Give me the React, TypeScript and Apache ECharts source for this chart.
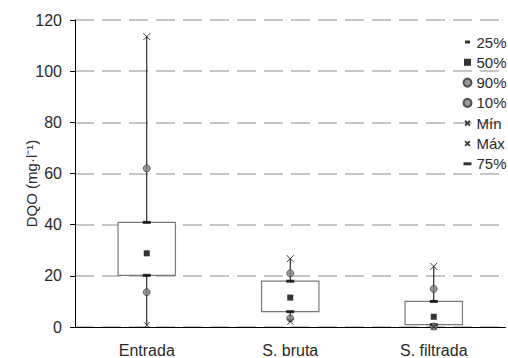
import React, { useEffect, useRef } from "react";
import * as echarts from "echarts";

const categories = ["Entrada", "S. bruta", "S. filtrada"];
const p25 = [20.2, 6.0, 0.9];
const p50 = [28.8, 11.5, 4.0];
const p90 = [62, 21, 14.9];
const p10 = [13.6, 3.4, 0.2];
const minV = [0.8, 2.1, 0.0];
const maxV = [113.5, 26.7, 23.7];
const p75 = [40.9, 17.9, 10.0];
const yTicks = { min: 0, max: 120, interval: 20 };

const FONT = "'Liberation Sans', Arial, sans-serif";
const TXT = "#2a2a2a";
const CROSS = "path://M0,0L10,10M10,0L0,10";
const CROSS_LEGEND = "path://M0,0M10,10M2,2L8,8M8,2L2,8";
const DASH_SHORT = "path://M0,0M8,8M1.5,2.5H6.5V5.5H1.5Z";
const DASH_LONG = "path://M0,0M8,8M0,2.5H8V5.5H0Z";
const SQUARE = "path://M0,0M8,8M0.5,0.5H7.5V7.5H0.5Z";

export default function App() {
  const ref = useRef<HTMLDivElement>(null);
  useEffect(() => {
    if (!ref.current) return;
    const chart = echarts.init(ref.current, null, { renderer: "svg" });
    const boxData = categories.map((_, i) => [i, minV[i], p25[i], p75[i], maxV[i]]);
    const crossStyle = { color: "none", borderColor: "#111", borderWidth: 1 };
    chart.setOption({
      animation: false,
      textStyle: { fontFamily: FONT },
      grid: { left: 75, right: 2.5, top: 20, bottom: 31 },
      xAxis: {
        type: "category",
        data: categories,
        axisLine: { lineStyle: { color: "#000", width: 1 } },
        axisTick: { length: 5, lineStyle: { color: "#000" } },
        axisLabel: { fontSize: 16, color: TXT, margin: 15, fontFamily: FONT },
      },
      yAxis: {
        type: "value",
        min: yTicks.min,
        max: yTicks.max,
        interval: yTicks.interval,
        axisLine: { show: true, lineStyle: { color: "#000", width: 1 } },
        axisTick: { show: true, length: 5, lineStyle: { color: "#000" } },
        axisLabel: { fontSize: 16, color: TXT, margin: 13, fontFamily: FONT },
        splitLine: { lineStyle: { color: "#b3b3b3", width: 1.5, type: [19, 8] } },
      },
      legend: {
        orient: "vertical",
        left: 461,
        top: 34.5,
        padding: 0,
        itemWidth: 8,
        itemHeight: 8,
        itemGap: 5.3,
        textStyle: { fontSize: 15, color: TXT, fontFamily: FONT },
        data: [
          { name: "25%", icon: DASH_SHORT },
          { name: "50%", icon: SQUARE },
          { name: "90%", icon: "circle" },
          { name: "10%", icon: "circle" },
          { name: "Mín", icon: CROSS_LEGEND },
          { name: "Máx", icon: CROSS_LEGEND },
          { name: "75%", icon: DASH_LONG },
        ],
      },
      graphic: [
        {
          type: "text",
          x: 31,
          y: 183.5,
          rotation: Math.PI / 2,
          style: {
            text: "DQO (mg·l⁻¹)",
            fontSize: 15,
            fill: TXT,
            fontFamily: FONT,
            align: "center",
            verticalAlign: "middle",
          },
        },
      ],
      series: [
        {
          type: "custom",
          name: "box",
          z: 1,
          data: boxData,
          encode: { x: 0, y: [1, 2, 3, 4] },
          renderItem: (params: any, api: any) => {
            const x = api.value(0);
            const lo = api.coord([x, api.value(1)]);
            const q1 = api.coord([x, api.value(2)]);
            const q3 = api.coord([x, api.value(3)]);
            const hi = api.coord([x, api.value(4)]);
            const bw = api.size([1, 0])[0] * 0.4;
            return {
              type: "group",
              children: [
                {
                  type: "line",
                  shape: { x1: lo[0], y1: lo[1], x2: hi[0], y2: hi[1] },
                  style: { stroke: "#000", lineWidth: 1 },
                },
                {
                  type: "rect",
                  shape: { x: q1[0] - bw / 2, y: q3[1], width: bw, height: q1[1] - q3[1] },
                  style: { fill: "#fff", stroke: "#7a7a7a", lineWidth: 1.2 },
                },
              ],
            };
          },
        },
        {
          type: "scatter",
          name: "25%",
          z: 3,
          data: p25,
          symbol: "rect",
          symbolSize: [8, 3],
          itemStyle: { color: "#000" },
        },
        {
          type: "scatter",
          name: "50%",
          z: 3,
          data: p50,
          symbol: "rect",
          symbolSize: 6,
          itemStyle: { color: "#000" },
        },
        {
          type: "scatter",
          name: "90%",
          z: 3,
          data: p90,
          symbol: "circle",
          symbolSize: 7,
          itemStyle: { color: "#7f7f7f", borderColor: "#333", borderWidth: 0.8 },
        },
        {
          type: "scatter",
          name: "10%",
          z: 3,
          data: p10,
          symbol: "circle",
          symbolSize: 7,
          itemStyle: { color: "#7f7f7f", borderColor: "#333", borderWidth: 0.8 },
        },
        {
          type: "scatter",
          name: "Mín",
          z: 4,
          data: minV,
          symbol: CROSS,
          symbolSize: 6,
          itemStyle: crossStyle,
        },
        {
          type: "scatter",
          name: "Máx",
          z: 4,
          data: maxV,
          symbol: CROSS,
          symbolSize: 7,
          itemStyle: crossStyle,
        },
        {
          type: "scatter",
          name: "75%",
          z: 3,
          data: p75,
          symbol: "rect",
          symbolSize: [8, 3],
          itemStyle: { color: "#000" },
        },
      ],
    });
    return () => chart.dispose();
  }, []);
  return <div ref={ref} style={{ width: 508, height: 358, position: "absolute", left: 0, top: 0 }} />;
}
